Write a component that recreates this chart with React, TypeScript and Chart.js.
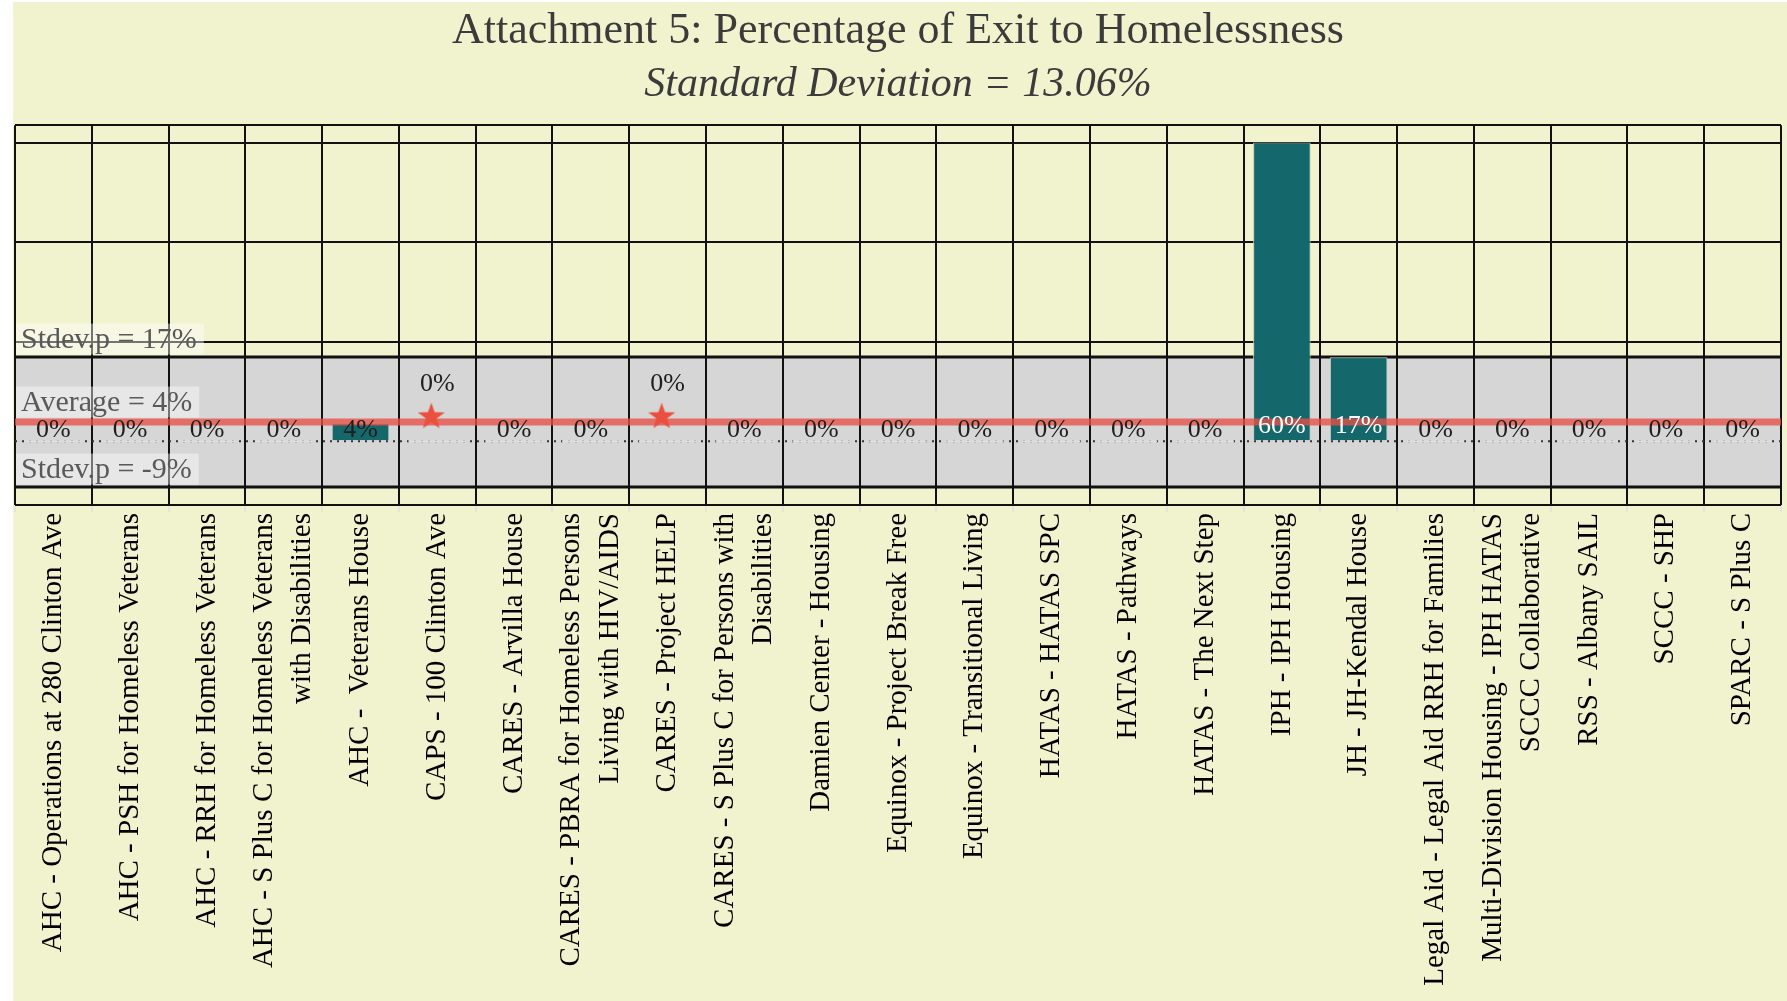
import React, { useEffect, useRef } from "react";
import { Chart, registerables } from "chart.js";

Chart.register(...registerables);

const TITLE = "Attachment 5: Percentage of Exit to Homelessness";
const SUBTITLE = "Standard Deviation = 13.06%";

const categories: (string | string[])[] = [
  "AHC - Operations at 280 Clinton Ave",
  "AHC - PSH for Homeless Veterans",
  "AHC - RRH for Homeless Veterans",
  ["AHC - S Plus C for Homeless Veterans", "with Disabilities"],
  "AHC -  Veterans House",
  "CAPS - 100 Clinton Ave",
  "CARES - Arvilla House",
  ["CARES - PBRA for Homeless Persons", "Living with HIV/AIDS"],
  "CARES - Project HELP",
  ["CARES - S Plus C for Persons with", "Disabilities"],
  "Damien Center - Housing",
  "Equinox - Project Break Free",
  "Equinox - Transitional Living",
  "HATAS - HATAS SPC",
  "HATAS - Pathways",
  "HATAS - The Next Step",
  "IPH - IPH Housing",
  "JH - JH-Kendal House",
  "Legal Aid - Legal Aid RRH for Families",
  ["Multi-Division Housing - IPH HATAS", "SCCC Collaborative"],
  "RSS - Albany SAIL",
  "SCCC - SHP",
  "SPARC - S Plus C",
];

// Percentage of exit to homelessness per program
const exitRates: number[] = [0, 0, 0, 0, 3.6, 0, 0, 0, 0, 0, 0, 0, 0, 0, 0, 0, 60, 16.9, 0, 0, 0, 0, 0];

// Star markers for flagged programs
const flaggedMarkers: (number | null)[] = [
  null, null, null, null, null, 5.2, null, null, 5.2, null, null, null,
  null, null, null, null, null, null, null, null, null, null, null,
];

const AVERAGE = 3.86;
const STDEV_UPPER = 16.92;
const STDEV_LOWER = -9.2;

const Y_MIN = -12.8;
const Y_MAX = 63.5;
const gridValues = [0, 20, 40, 60];

const SERIF = "'Liberation Serif', 'Times New Roman', serif";
const TEAL = "#14676A";

function makeStar(): HTMLCanvasElement {
  const w = 44;
  const h = 30;
  const c = document.createElement("canvas");
  c.width = w;
  c.height = h;
  const g = c.getContext("2d")!;
  const R = 14.2;
  const r = R * 0.4;
  const cx = w / 2 - 6;
  const cy = h / 2 + 0.0955 * R;
  g.beginPath();
  for (let k = 0; k < 10; k++) {
    const ang = -Math.PI / 2 + (k * Math.PI) / 5;
    const rad = k % 2 === 0 ? R : r;
    g.lineTo(cx + rad * Math.cos(ang), cy + rad * Math.sin(ang));
  }
  g.closePath();
  g.fillStyle = "#E9503F";
  g.fill();
  return c;
}

const centerTicksPlugin = {
  id: "centerMultiLineTicks",
  beforeDraw(chart: any) {
    const sc = chart.scales.x;
    if (!sc) return;
    const items = sc.getLabelItems(chart.chartArea);
    for (const it of items) {
      if (it._centered) continue;
      it._centered = true;
      if (Array.isArray(it.label) && it.label.length > 1) {
        const lh = it.font.lineHeight;
        it.options.translation[0] -= ((it.label.length - 1) * lh) / 2;
      }
    }
  },
};

const annotationsPlugin = {
  id: "annotations",
  afterDatasetsDraw(chart: any) {
    const ctx = chart.ctx;
    const y = chart.scales.y;
    const area = chart.chartArea;
    const zeroY = y.getPixelForValue(0);
    const barMeta = chart.getDatasetMeta(0);
    ctx.save();
    ctx.font = `26px ${SERIF}`;
    ctx.textAlign = "center";
    ctx.textBaseline = "alphabetic";
    barMeta.data.forEach((bar: any, i: number) => {
      const v = exitRates[i];
      const txt = `${Math.round(v)}%`;
      if (flaggedMarkers[i] != null) {
        const sy = y.getPixelForValue(flaggedMarkers[i] as number);
        ctx.fillStyle = "#1E1E1E";
        ctx.fillText(txt, bar.x, sy - 24);
        return;
      }
      const big = v >= 10;
      ctx.fillStyle = big ? "#FFFFFF" : "#1E1E1E";
      ctx.fillText(txt, bar.x, zeroY - (big ? 8 : 4));
    });

    const stats = [
      { v: STDEV_UPPER, lw: 3, text: `Stdev.p = ${Math.round(STDEV_UPPER)}%` },
      { v: AVERAGE, lw: 7, text: `Average = ${Math.round(AVERAGE)}%` },
      { v: STDEV_LOWER, lw: 3, text: `Stdev.p = ${Math.round(STDEV_LOWER)}%` },
    ];
    ctx.font = `30px ${SERIF}`;
    ctx.textAlign = "left";
    ctx.textBaseline = "middle";
    for (const s of stats) {
      const ly = y.getPixelForValue(s.v);
      const bottom = ly - s.lw / 2 - 1;
      const hgt = 31;
      const tw = ctx.measureText(s.text).width;
      const bx = area.left + 1;
      ctx.fillStyle = "rgba(255,255,255,0.42)";
      ctx.fillRect(bx, bottom - hgt, tw + 12, hgt);
      ctx.fillStyle = "#595959";
      ctx.fillText(s.text, bx + 5, bottom - hgt / 2 + 1);
    }
    ctx.restore();
  },
};

function hLine(v: number) {
  return [
    { x: 0, y: v },
    { x: 1, y: v },
  ];
}

export default function App() {
  const ref = useRef<HTMLCanvasElement | null>(null);

  useEffect(() => {
    document.body.style.margin = "0";
    if (!ref.current) return;
    const star = makeStar();
    const chart = new Chart(ref.current, {
      type: "bar",
      data: {
        labels: categories as any,
        datasets: [
          {
            type: "bar",
            data: exitRates,
            xAxisID: "x",
            yAxisID: "y",
            backgroundColor: (c: any) => (c.raw ? TEAL : "#DDDDDD"),
            borderColor: "#C8CABD",
            borderWidth: (c: any) => (c.raw ? 1 : 0),
            categoryPercentage: 1,
            barPercentage: 0.75,
            grouped: false,
            minBarLength: 2,
            order: 5,
          } as any,
          {
            type: "line",
            data: hLine(STDEV_UPPER),
            xAxisID: "x2",
            yAxisID: "y",
            borderColor: "#111111",
            borderWidth: 3,
            pointRadius: 0,
            fill: "+1",
            backgroundColor: "#D6D6D6",
            order: 10,
          } as any,
          {
            type: "line",
            data: hLine(STDEV_LOWER),
            xAxisID: "x2",
            yAxisID: "y",
            borderColor: "#111111",
            borderWidth: 3,
            pointRadius: 0,
            fill: false,
            order: 10,
          } as any,
          {
            type: "line",
            data: hLine(0),
            xAxisID: "x2",
            yAxisID: "y",
            borderColor: "#333333",
            borderWidth: 2,
            borderDash: [2, 5],
            pointRadius: 0,
            fill: false,
            order: 9,
          } as any,
          {
            type: "line",
            data: hLine(AVERAGE),
            xAxisID: "x2",
            yAxisID: "y",
            borderColor: "rgba(232,80,70,0.78)",
            borderWidth: 7,
            pointRadius: 0,
            fill: false,
            order: 3,
          } as any,
          {
            type: "line",
            data: flaggedMarkers,
            xAxisID: "x",
            yAxisID: "y",
            showLine: false,
            pointStyle: star,
            pointRadius: 14,
            order: 1,
          } as any,
        ],
      },
      options: {
        responsive: false,
        animation: false,
        devicePixelRatio: 1,
        layout: { autoPadding: false, padding: { left: 2, right: 6, top: 0, bottom: 0 } },
        plugins: {
          legend: { display: false },
          tooltip: { enabled: false },
          filler: { drawTime: "beforeDraw" },
          title: {
            display: true,
            text: TITLE,
            color: "#3B3B3B",
            font: { family: SERIF, size: 44, weight: "normal" },
            padding: { top: 3, bottom: 0 },
          },
          subtitle: {
            display: true,
            text: SUBTITLE,
            color: "#3B3B3B",
            font: { family: SERIF, size: 42, style: "italic", weight: "normal" },
            padding: { top: 2, bottom: 15 },
          },
        } as any,
        scales: {
          x: {
            type: "category",
            offset: true,
            grid: {
              offset: true,
              color: "#111111",
              lineWidth: 2,
              drawTicks: true,
              tickColor: "#E4E6D8",
              tickLength: 7,
              tickWidth: 2,
            },
            border: { display: false },
            ticks: {
              autoSkip: false,
              maxRotation: 90,
              minRotation: 90,
              padding: 1,
              color: "#000000",
              font: { family: SERIF, size: 29, lineHeight: 1.32 },
            },
            afterFit: (s: any) => {
              s.height = 496;
              s.paddingLeft = 0;
              s.paddingRight = 0;
            },
          },
          x2: { type: "linear", min: 0, max: 1, display: false, offset: false, grid: { offset: false } },
          y: {
            min: Y_MIN,
            max: Y_MAX,
            grid: {
              color: (c: any) => (c.tick && c.tick.value === 0 ? "rgba(0,0,0,0)" : "#111111"),
              lineWidth: 2,
              drawTicks: false,
            },
            border: { display: false },
            ticks: { display: false },
            afterBuildTicks: (s: any) => {
              s.ticks = [Y_MIN, ...gridValues, Y_MAX].map((v) => ({ value: v }));
            },
            afterFit: (s: any) => {
              s.width = 0;
              s.paddingTop = 0;
              s.paddingBottom = 0;
            },
          },
        } as any,
      },
      plugins: [centerTicksPlugin, annotationsPlugin],
    });
    return () => chart.destroy();
  }, []);

  return (
    <div style={{ position: "relative", width: 1787, height: 1001, background: "#FFFFFF", overflow: "hidden" }}>
      <canvas
        ref={ref}
        width={1774}
        height={999}
        style={{ position: "absolute", left: 13, top: 2, width: 1774, height: 999, background: "#F1F3CE", display: "block" }}
      />
    </div>
  );
}
